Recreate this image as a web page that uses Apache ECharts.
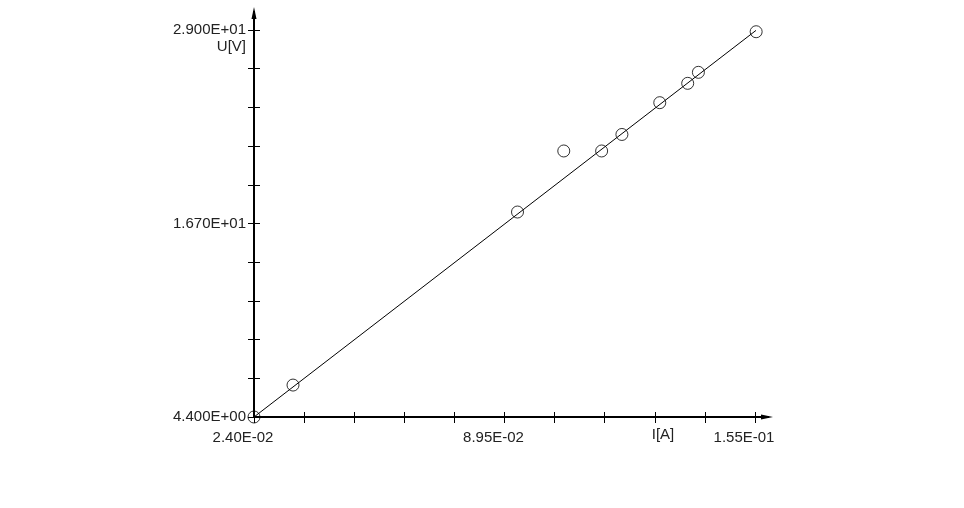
<!DOCTYPE html>
<html>
<head>
<meta charset="utf-8">
<script src="https://cdn.jsdelivr.net/npm/echarts@6/dist/echarts.min.js"></script>
<style>html,body{margin:0;padding:0;background:#fff}#c{width:964px;height:508px}</style>
</head>
<body>
<div id="c"></div>
<script>
// Measured points: current I [A], voltage U [V]
const currentA = [0.0240, 0.0342, 0.0929, 0.1050, 0.1149, 0.1202, 0.1301, 0.1374, 0.1402, 0.1553];
const voltageV = [4.40, 6.43, 17.43, 21.31, 21.31, 22.36, 24.38, 25.61, 26.31, 28.89];
// Fitted straight line (end points)
const fitI = [0.0240, 0.1562];
const fitU = [4.40, 29.15];
// Axes
const xMin = 0.024, xMax = 0.155;
const yMin = 4.4, yMax = 29.0;
const xTicks = [0.024, 0.0371, 0.0502, 0.0633, 0.0764, 0.0895, 0.1026, 0.1157, 0.1288, 0.1419, 0.155];
const yTicks = [4.4, 6.86, 9.32, 11.78, 14.24, 16.7, 19.16, 21.62, 24.08, 26.54, 29.0];
const xLabelValues = [0.024, 0.0895, 0.155];
const xLabelTexts = ['2.40E-02', '8.95E-02', '1.55E-01'];
const yLabelValues = [4.4, 16.7, 29.0];
const yLabelTexts = ['4.400E+00', '1.670E+01', '2.900E+01'];

function lookup(vals, texts, v) {
  let best = 0;
  for (let i = 1; i < vals.length; i++) if (Math.abs(vals[i] - v) < Math.abs(vals[best] - v)) best = i;
  return texts[best];
}

const FONT = 'Liberation Sans';
const FS = 15;
const TXT = '#222';
const chart = echarts.init(document.getElementById('c'), null, {renderer: 'canvas'});
const G = {left: 254, top: 30, width: 501, height: 387};

chart.setOption({
  animation: false,
  backgroundColor: '#fff',
  grid: G,
  xAxis: [{
    type: 'value', min: xMin, max: xMax, position: 'bottom',
    splitLine: {show: false},
    axisLine: {show: true, onZero: false, lineStyle: {color: '#000', width: 2}},
    axisTick: {show: true, inside: false, length: 6, customValues: xTicks, lineStyle: {color: '#000', width: 1}},
    axisLabel: {show: true, customValues: xLabelValues, margin: 13, color: TXT, fontFamily: FONT, fontSize: FS,
      padding: [0, 22, 0, 0],
      formatter: v => lookup(xLabelValues, xLabelTexts, v)},
    name: 'I[A]', nameLocation: 'end', nameGap: -92,
    nameTextStyle: {color: TXT, fontFamily: FONT, fontSize: FS, align: 'center', verticalAlign: 'top', padding: [10, 0, 0, 0]}
  }, {
    type: 'value', min: xMin, max: xMax, position: 'bottom',
    splitLine: {show: false},
    axisLine: {show: false, onZero: false},
    axisTick: {show: true, inside: true, length: 5, customValues: xTicks, lineStyle: {color: '#000', width: 1}},
    axisLabel: {show: false}
  }],
  yAxis: [{
    type: 'value', min: yMin, max: yMax, position: 'left',
    splitLine: {show: false},
    axisLine: {show: true, onZero: false, lineStyle: {color: '#000', width: 2}},
    axisTick: {show: true, inside: false, length: 6, customValues: yTicks, lineStyle: {color: '#000', width: 1}},
    axisLabel: {show: true, customValues: yLabelValues, margin: 8, color: TXT, fontFamily: FONT, fontSize: FS,
      padding: [4, 0, 0, 0],
      formatter: v => lookup(yLabelValues, yLabelTexts, v)},
    name: 'U[V]', nameLocation: 'end', nameGap: -17,
    nameTextStyle: {color: TXT, fontFamily: FONT, fontSize: FS, align: 'right', verticalAlign: 'middle', padding: [0, 8, 0, 0]}
  }, {
    type: 'value', min: yMin, max: yMax, position: 'left',
    splitLine: {show: false},
    axisLine: {show: false, onZero: false},
    axisTick: {show: true, inside: true, length: 6, customValues: yTicks, lineStyle: {color: '#000', width: 1}},
    axisLabel: {show: false}
  }],
  series: [{
    type: 'line', xAxisIndex: 0, yAxisIndex: 0, clip: false,
    data: fitI.map((x, i) => [x, fitU[i]]),
    showSymbol: false, symbol: 'none',
    lineStyle: {color: '#000', width: 1}
  }, {
    type: 'scatter', xAxisIndex: 0, yAxisIndex: 0, clip: false,
    data: currentA.map((x, i) => [x, voltageV[i]]),
    symbol: 'circle', symbolSize: 12,
    itemStyle: {color: 'rgba(0,0,0,0)', borderColor: '#000', borderWidth: 1}
  }]
});

// axis extensions with arrow heads
const o = chart.convertToPixel({xAxisIndex: 0, yAxisIndex: 0}, [xMin, yMin]);
const e = chart.convertToPixel({xAxisIndex: 0, yAxisIndex: 0}, [xMax, yMax]);
const xEnd = e[0] + 18, yEnd = e[1] - 23;
chart.setOption({
  graphic: [
    {type: 'line', shape: {x1: e[0], y1: o[1], x2: xEnd - 4, y2: o[1]}, style: {stroke: '#000', lineWidth: 2}},
    {type: 'polygon', shape: {points: [[xEnd, o[1]], [xEnd - 12, o[1] - 2.5], [xEnd - 12, o[1] + 2.5]]}, style: {fill: '#000'}},
    {type: 'line', shape: {x1: o[0], y1: e[1], x2: o[0], y2: yEnd + 4}, style: {stroke: '#000', lineWidth: 2}},
    {type: 'polygon', shape: {points: [[o[0], yEnd], [o[0] - 2.5, yEnd + 12], [o[0] + 2.5, yEnd + 12]]}, style: {fill: '#000'}}
  ]
});
</script>
</body>
</html>
